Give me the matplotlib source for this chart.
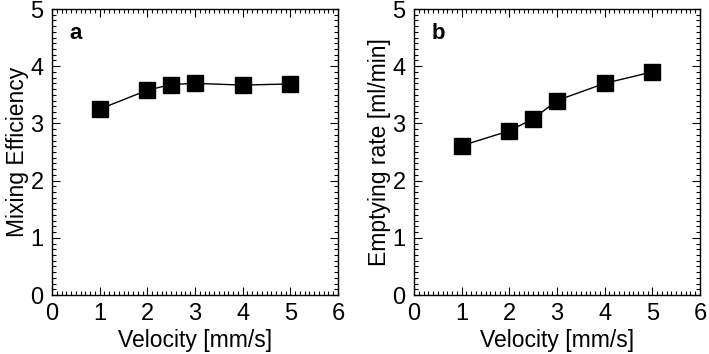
import matplotlib.pyplot as plt
from matplotlib.ticker import MultipleLocator

plt.rcParams['font.family'] = ['Liberation Sans', 'DejaVu Sans']

velocity = [1, 2, 2.5, 3, 4, 5]
mixing_eff = [3.25, 3.58, 3.68, 3.70, 3.67, 3.69]
emptying_rate = [2.61, 2.87, 3.08, 3.40, 3.70, 3.90]

fig = plt.figure(figsize=(7.09, 3.54), dpi=100)
ax_a = fig.add_axes([52 / 709, 59 / 354, 286 / 709, 286 / 354])
ax_b = fig.add_axes([414 / 709, 59 / 354, 286 / 709, 286 / 354])

panels = [
    (ax_a, mixing_eff, 'Mixing Efficiency', 'a'),
    (ax_b, emptying_rate, 'Emptying rate [ml/min]', 'b'),
]

for ax, vals, ylabel, tag in panels:
    ax.plot(velocity, vals, color='black', lw=1.0, marker='s',
            markersize=11.5, markerfacecolor='black', markeredgecolor='black')
    ax.set_xlim(0, 6)
    ax.set_ylim(0, 5)
    ax.xaxis.set_major_locator(MultipleLocator(1))
    ax.yaxis.set_major_locator(MultipleLocator(1))
    ax.xaxis.set_minor_locator(MultipleLocator(0.1))
    ax.yaxis.set_minor_locator(MultipleLocator(0.1))
    ax.tick_params(which='both', direction='in', top=True, right=True,
                   width=0.8, labelsize=17)
    ax.tick_params(which='major', length=6)
    ax.tick_params(axis='x', which='major', pad=6)
    ax.tick_params(axis='y', which='major', pad=6)
    ax.tick_params(which='minor', length=3)
    for s in ax.spines.values():
        s.set_linewidth(1.0)
    ax.set_xlabel('Velocity [mm/s]', fontsize=16.5, labelpad=3)
    ax.set_ylabel(ylabel, fontsize=16.5, labelpad=1)
    ax.text(0.06, 0.95, tag, transform=ax.transAxes, fontsize=16,
            fontweight='bold', va='top', ha='left')

fig.savefig('out.png', dpi=100)
